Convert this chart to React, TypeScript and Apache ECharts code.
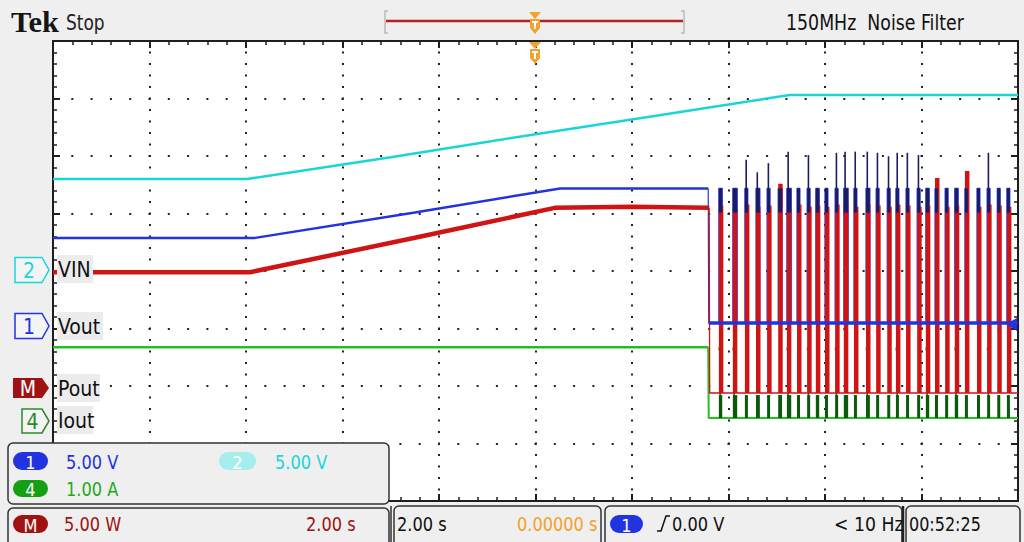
import React, { useEffect, useRef } from "react";
import * as echarts from "echarts";

// ---- axes: 2 s/div horizontally (10 div), 8 vertical divisions ----
const TIME_MIN = -10;
const TIME_MAX = 10;
const TIME_STEP = 2;
const DIV_MIN = -4;
const DIV_MAX = 4;

// ---- CH2 VIN (V), 5 V/div ----
const vinTime = [-10, -5.98, -3.0, 0.0, 2.5, 5.27, 10];
const vinVolts = [8.0, 8.0, 9.9, 11.9, 13.5, 15.3, 15.3];

// ---- CH1 Vout (V), 5 V/div, before burst ----
const voutTime = [-10, -5.81, -2.5, 0.51, 3.58];
const voutVolts = [7.4, 7.4, 9.6, 11.7, 11.7];

// ---- Math Pout (W), 5 W/div, before burst ----
const poutTime = [-10, -5.92, -2.5, 0.4, 2.0, 3.6];
const poutWatts = [10.5, 10.5, 13.5, 16.1, 16.2, 16.1];

// ---- CH4 Iout (A), 1 A/div, before burst ----
const ioutTime = [-10, 3.58];
const ioutAmps = [1.23, 1.23];

// ---- hiccup burst after t = 3.6 s ----
const burstStart = 3.59;
const pulseOn = [3.8, 4.09, 4.34, 4.57, 4.8, 5.03, 5.21, 5.42, 5.63, 5.81, 6.0, 6.21, 6.39, 6.6, 6.85, 7.06, 7.29, 7.47, 7.68, 7.91, 8.09, 8.28, 8.49, 8.69, 8.9, 9.15, 9.36, 9.57, 9.77];
const pulseOff = [3.87, 4.18, 4.4, 4.65, 4.86, 5.11, 5.3, 5.48, 5.69, 5.88, 6.06, 6.27, 6.48, 6.66, 6.93, 7.12, 7.35, 7.53, 7.74, 7.97, 8.16, 8.34, 8.55, 8.76, 8.96, 9.21, 9.42, 9.63, 9.83];
const poutPeak = [16.3, 16.2, 16.4, 16.2, 16.3, 18.2, 16.2, 16.4, 16.2, 16.3, 16.2, 16.4, 16.3, 16.2, 16.4, 16.3, 16.2, 16.4, 16.3, 16.2, 16.3, 18.7, 16.2, 16.3, 19.3, 16.2, 16.4, 16.3, 16.2];
const voutHigh = 11.7;
const voutNavyLow = 9.6;
const voutSpike = [null, null, 14.2, 13.1, 13.9, null, 14.9, null, 14.6, null, null, 14.8, 14.9, 14.9, 14.9, 14.8, 14.5, 14.8, 14.8, 14.6, null, null, null, null, null, null, 14.8, null, null];
const ioutPulse = 0.4;
const ioutSpike = [1.23, 1.23, null, null, null, null, 1.23, null, 1.23, null, null, 1.23, null, null, 1.23, null, null, 1.23, null, null, 1.23, null, null, 1.23, null, null, 1.23, null, null];

const FONT = '"DejaVu Sans Condensed", "DejaVu Sans", "Liberation Sans", sans-serif';
const SX = 0.9;

const C_CYAN = "#18d6d8";
const C_BLUE = "#2233e0";
const C_NAVY = "#1a1d66";
const C_RED = "#d01414";
const C_DRED = "#a01212";
const C_GREEN = "#22c022";
const C_DGREEN = "#0b5a0b";
const C_ORANGE = "#f2a22a";

function txt(x: number, y: number, text: string, size: number, fill: string, extra: any = {}, sx = SX) {
  return {
    type: "text",
    x,
    y,
    z: 120,
    scaleX: sx,
    style: { text, fill, font: `${size}px ${FONT}`, textVerticalAlign: "middle", ...extra },
  };
}

function pill(x: number, y: number, w: number, h: number, fill: string, label: string) {
  return [
    { type: "rect", z: 115, shape: { x, y, width: w, height: h, r: h / 2 }, style: { fill } },
    txt(x + w / 2, y + h / 2 + 1, label, 18, "#fff", { textAlign: "center" }, 1),
  ];
}

function marker(x1: number, yc: number, h: number, color: string, filled: boolean, label: string) {
  const x2 = 49;
  return [
    {
      type: "polygon",
      z: 115,
      shape: { points: [[x1, yc - h / 2], [x2 - 7, yc - h / 2], [x2, yc], [x2 - 7, yc + h / 2], [x1, yc + h / 2]] },
      style: filled ? { fill: color } : { fill: "#f4f4f4", stroke: color, lineWidth: 1.5 },
    },
    txt((x1 + x2 - 6) / 2, yc + 1, label, 21, filled ? "#fff" : color, { textAlign: "center" }, 1),
  ];
}

function labelBox(x: number, y: number, w: number, text: string) {
  return [
    { type: "rect", z: 112, shape: { x, y: y - 14, width: w, height: 28 }, style: { fill: "#ececec" } },
    txt(x + 1, y + 1, text, 21, "#111", {}, 1),
  ];
}

function panel(x: number, y: number, w: number, h: number) {
  return { type: "rect", z: 110, shape: { x, y, width: w, height: h, r: 5 }, style: { fill: "#efefef", stroke: "#333", lineWidth: 1.5 } };
}

function trigMarker(yTop: number) {
  return [
    { type: "polygon", z: 116, shape: { points: [[529, yTop], [541, yTop], [535, yTop + 7]] }, style: { fill: C_ORANGE } },
    { type: "polygon", z: 116, shape: { points: [[530, yTop + 7], [540, yTop + 7], [540, yTop + 16], [535, yTop + 22], [530, yTop + 16]] }, style: { fill: C_ORANGE } },
    { type: "rect", z: 117, shape: { x: 532, y: yTop + 9, width: 6, height: 2 }, style: { fill: "#fff" } },
    { type: "rect", z: 117, shape: { x: 534, y: yTop + 9, width: 2, height: 8 }, style: { fill: "#fff" } },
  ];
}

function lineSeries(yAxisIndex: number, data: any[], color: string, width: number, z = 2) {
  return {
    type: "line",
    yAxisIndex,
    data,
    showSymbol: false,
    symbol: "none",
    lineStyle: { color, width, cap: "butt" },
    itemStyle: { color },
    silent: true,
    z,
    clip: true,
  };
}

function barSeries(yAxisIndex: number, data: any[], color: string, minW: number, z = 2) {
  return {
    type: "custom",
    yAxisIndex,
    data,
    z,
    silent: true,
    clip: true,
    encode: { x: [0, 1], y: [2, 3] },
    renderItem: (_p: any, api: any) => {
      const a = api.coord([api.value(0), api.value(3)]);
      const b = api.coord([api.value(1), api.value(2)]);
      return {
        type: "rect",
        shape: { x: a[0], y: a[1], width: Math.max(b[0] - a[0], minW), height: b[1] - a[1] },
        style: { fill: color },
      };
    },
  };
}

export default function App() {
  const ref = useRef<HTMLDivElement>(null);

  useEffect(() => {
    if (!ref.current) return;
    const chart = echarts.init(ref.current, null, { renderer: "svg" });

    const vinData = vinTime.map((t, i) => [t, vinVolts[i]]);
    const voutPre = voutTime.map((t, i) => [t, voutVolts[i]]);
    const voutStep: any[] = [[3.58, voutHigh], [burstStart, 0]];
    pulseOn.forEach((on, i) => {
      voutStep.push([on, 0], [on, voutHigh], [pulseOff[i], voutHigh], [pulseOff[i], 0]);
    });
    voutStep.push([TIME_MAX, 0]);
    const voutBase = [[burstStart, 0], [TIME_MAX, 0]];
    const navyBars = pulseOn.map((on, i) => [on, pulseOff[i], voutNavyLow, voutHigh]);
    const navySpikes: any[] = [];
    voutSpike.forEach((s, i) => {
      if (s !== null) navySpikes.push([pulseOn[i] + 0.01, pulseOn[i] + 0.03, voutHigh, s]);
    });

    const poutPre = poutTime.map((t, i) => [t, poutWatts[i]]);
    const poutPost = [[3.6, 16.1], [3.61, 0], [TIME_MAX, 0]];
    const redBars = pulseOn.map((on, i) => [on, pulseOff[i], 0, poutPeak[i]]);

    const ioutPre = ioutTime.map((t, i) => [t, ioutAmps[i]]);
    const ioutPost = [[3.58, 1.23], [3.59, 0], [TIME_MAX, 0]];
    const greenBars = pulseOn.map((on, i) => [on, pulseOff[i], 0, ioutPulse]);
    const greenSpikes: any[] = [];
    const greenCaps: any[] = [];
    ioutSpike.forEach((s, i) => {
      if (s !== null) {
        greenSpikes.push([pulseOn[i] + 0.01, pulseOn[i] + 0.03, ioutPulse, s]);
        greenCaps.push([pulseOn[i] - 0.01, pulseOn[i] + 0.05, s - 0.06, s]);
      }
    });

    const frameAxis = {
      axisLine: { show: true, onZero: false, lineStyle: { color: "#1e1e1e", width: 2 } },
      axisTick: { show: true, inside: true, length: 7, lineStyle: { color: "#1e1e1e", width: 2 } },
      minorTick: { show: true, splitNumber: 5, length: 4, lineStyle: { color: "#1e1e1e", width: 1.5 } },
      axisLabel: { show: false },
    };

    const option: any = {
      animation: false,
      backgroundColor: "#efefef",
      grid: {
        left: 53,
        top: 41,
        width: 965,
        height: 460,
        show: true,
        backgroundColor: "#ffffff",
        borderWidth: 0,
        containLabel: false,
        outerBoundsMode: "none",
      },
      xAxis: [
        {
          type: "value",
          min: TIME_MIN,
          max: TIME_MAX,
          interval: TIME_STEP,
          position: "bottom",
          ...frameAxis,
          splitLine: { show: true, lineStyle: { color: "#222", width: 2, type: [2, 9.5], dashOffset: 1 } },
        },
        {
          type: "value",
          min: TIME_MIN,
          max: TIME_MAX,
          interval: TIME_STEP,
          position: "top",
          ...frameAxis,
          splitLine: { show: false },
        },
      ],
      yAxis: [
        {
          type: "value",
          min: DIV_MIN,
          max: DIV_MAX,
          interval: 1,
          position: "left",
          ...frameAxis,
          splitLine: { show: true, lineStyle: { color: "#222", width: 2, type: [2, 17.3], dashOffset: 1 } },
        },
        {
          type: "value",
          min: DIV_MIN,
          max: DIV_MAX,
          interval: 1,
          position: "right",
          ...frameAxis,
          splitLine: { show: false },
        },
        { type: "value", show: false, min: -20, max: 20 }, // 2: VIN
        { type: "value", show: false, min: -15.48, max: 24.52 }, // 3: Vout
        { type: "value", show: false, min: -9.39, max: 30.61 }, // 4: Pout
        { type: "value", show: false, min: -1.443, max: 6.557 }, // 5: Iout
      ],
      series: [
        lineSeries(2, vinData, C_CYAN, 2.5, 2),
        lineSeries(5, ioutPre, C_GREEN, 2.5, 2),
        lineSeries(5, ioutPost, C_GREEN, 2, 2),
        barSeries(5, greenBars, C_DGREEN, 3, 3),
        barSeries(5, greenSpikes, C_DGREEN, 1.5, 3),
        barSeries(5, greenCaps, C_GREEN, 3, 3),
        lineSeries(3, voutPre, C_BLUE, 2.5, 4),
        lineSeries(3, voutStep, C_BLUE, 1.2, 4),
        lineSeries(4, poutPre, C_RED, 4.5, 5),
        lineSeries(4, poutPost, C_RED, 1.3, 5),
        barSeries(4, redBars, C_RED, 4.5, 6),
        barSeries(3, navyBars, C_NAVY, 3, 7),
        barSeries(3, navySpikes, C_NAVY, 1.6, 7),
        lineSeries(3, voutBase, C_BLUE, 3.5, 8),
      ],
      graphic: [
        // top bar
        txt(11, 22, "Tek", 29, "#151515", { font: 'bold 29px "Liberation Serif", "DejaVu Serif", serif' }, 1.05),
        txt(66, 23, "Stop", 21, "#222"),
        txt(786, 23, "150MHz  Noise Filter", 21, "#111", {}, 0.92),
        { type: "polyline", z: 115, shape: { points: [[388, 11], [385, 11], [385, 33], [388, 33]] }, style: { stroke: "#bbb", lineWidth: 1.5, fill: null } },
        { type: "polyline", z: 115, shape: { points: [[681, 11], [684, 11], [684, 33], [681, 33]] }, style: { stroke: "#bbb", lineWidth: 1.5, fill: null } },
        { type: "line", z: 115, shape: { x1: 386, y1: 21, x2: 683, y2: 21 }, style: { stroke: "#b52222", lineWidth: 2.5 } },
        ...trigMarker(12),
        ...trigMarker(42),
        // channel markers at left
        ...marker(15, 270, 25, C_CYAN, false, "2"),
        ...marker(15, 326, 25, C_BLUE, false, "1"),
        ...marker(13, 388, 20, C_DRED, true, "M"),
        ...marker(22, 421, 24, "#2a8a2a", false, "4"),
        // trace labels
        ...labelBox(57, 269, 36, "VIN"),
        ...labelBox(57, 326, 46, "Vout"),
        ...labelBox(57, 388, 43, "Pout"),
        ...labelBox(57, 420, 36, "Iout"),
        // right-edge Vout level arrow
        { type: "polygon", z: 115, shape: { points: [[1017, 318], [1017, 331], [1006, 324]] }, style: { fill: C_BLUE } },
        // bottom panels
        panel(8, 443, 381, 61),
        ...pill(13, 452, 35, 18, C_BLUE, "1"),
        txt(66, 462, "5.00 V", 20, C_BLUE),
        ...pill(219, 452, 37, 18, "#a6eeee", "2"),
        txt(275, 462, "5.00 V", 20, C_CYAN),
        ...pill(13, 480, 35, 17, "#14a014", "4"),
        txt(66, 489, "1.00 A", 20, "#1eaa1e"),
        panel(8, 508, 381, 40),
        ...pill(13, 515, 35, 18, C_DRED, "M"),
        txt(64, 524, "5.00 W", 20, C_DRED),
        txt(306, 524, "2.00 s", 20, C_DRED),
        { type: "line", z: 114, shape: { x1: 391, y1: 506, x2: 391, y2: 542 }, style: { stroke: "#333", lineWidth: 1.5 } },
        panel(394, 506, 207, 42),
        txt(397, 524, "2.00 s", 20, "#111"),
        txt(517, 524, "0.00000 s", 20, C_ORANGE),
        panel(605, 506, 297, 42),
        ...pill(610, 515, 33, 18, C_BLUE, "1"),
        { type: "polyline", z: 120, shape: { points: [[657, 531], [661, 531], [666, 516], [670, 516]] }, style: { stroke: "#111", lineWidth: 1.5, fill: null } },
        txt(672, 524, "0.00 V", 20, "#111"),
        txt(834, 524, "< 10 Hz", 20, "#111", {}, 0.96),
        { type: "line", z: 114, shape: { x1: 903, y1: 506, x2: 903, y2: 542 }, style: { stroke: "#222", lineWidth: 2.5 } },
        panel(906, 506, 114, 42),
        txt(909, 524, "00:52:25", 20, "#111", {}, 0.89),
      ],
    };

    chart.setOption(option);
    return () => chart.dispose();
  }, []);

  return <div ref={ref} style={{ position: "fixed", left: 0, top: 0, width: 1024, height: 542 }} />;
}
